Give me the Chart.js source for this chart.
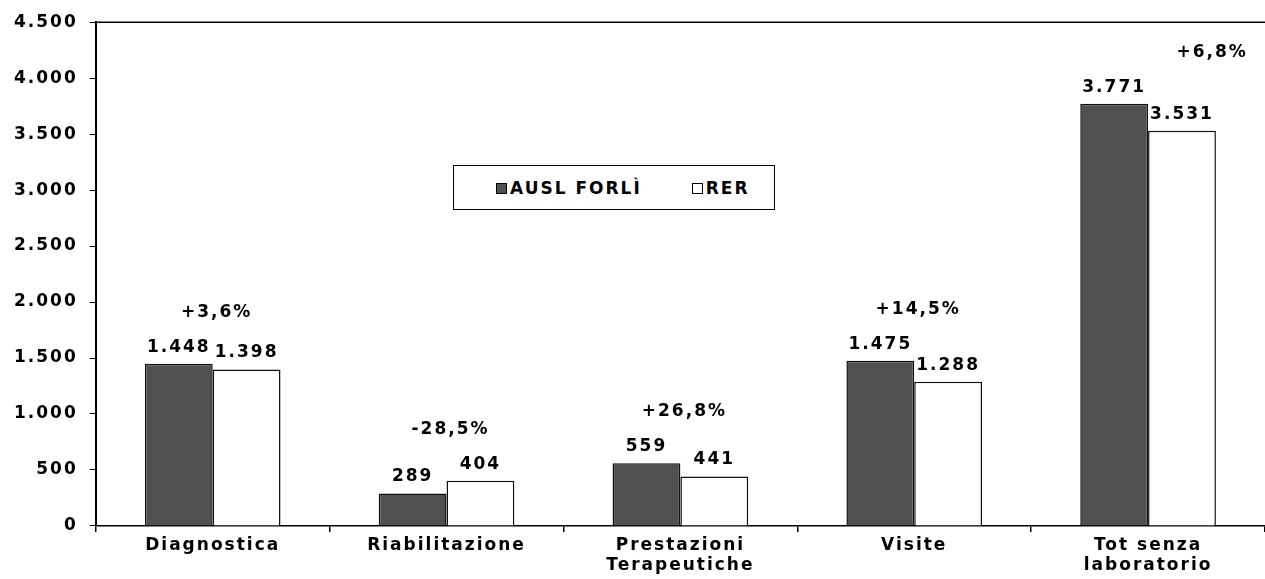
<!DOCTYPE html>
<html>
<head>
<meta charset="utf-8">
<script src="https://cdn.jsdelivr.net/npm/chart.js@4/dist/chart.umd.min.js"></script>
<style>
  body { margin: 0; background: #fff; }
  #wrap { position: relative; width: 1265px; height: 579px; }
  #legend {
    position: absolute; left: 453px; top: 165px; width: 322px; height: 45px;
    border: 1.5px solid #000; background: #fff; box-sizing: border-box;
    font: bold 17px "DejaVu Sans", Verdana, sans-serif; letter-spacing: 2px; color: #000;
    display: flex; align-items: center;
  }
  #legend span.sw { display: inline-block; width: 9px; height: 9px; border: 1px solid #000; margin-right: 3px; }
</style>
</head>
<body>
<div id="wrap">
  <canvas id="chart" width="1265" height="579"></canvas>
  <div id="legend">
    <span style="margin-left:42px"><span class="sw" style="background:#505050"></span>AUSL FORLÌ</span>
    <span style="margin-left:50px"><span class="sw" style="background:#fff"></span>RER</span>
  </div>
</div>
<script>
const categories = [['Diagnostica'], ['Riabilitazione'], ['Prestazioni', 'Terapeutiche'], ['Visite'], ['Tot senza', 'laboratorio']];
const auslForli = [1448, 289, 559, 1475, 3771];
const rer = [1398, 404, 441, 1288, 3531];
const diffLabels = ['+3,6%', '-28,5%', '+26,8%', '+14,5%', '+6,8%'];

const FONT = '"DejaVu Sans", Verdana, sans-serif';
const SPACING = '2px';

function fmt(v) {
    return String(v).replace(/\B(?=(\d{3})+(?!\d))/g, '.');
}

// wide letter spacing like the scanned original
const spacingPlugin = {
    id: 'spacing',
    beforeLayout(chart) { chart.ctx.letterSpacing = SPACING; },
    beforeDraw(chart) { chart.ctx.letterSpacing = SPACING; }
};

// value labels above bars + percent difference above each pair
const labelsPlugin = {
    id: 'labels',
    afterDatasetsDraw(chart) {
        const ctx = chart.ctx;
        ctx.save();
        ctx.letterSpacing = SPACING;
        ctx.fillStyle = '#000';
        ctx.font = 'bold 17px ' + FONT;
        ctx.textAlign = 'center';
        ctx.textBaseline = 'bottom';
        chart.data.datasets.forEach((ds, di) => {
            chart.getDatasetMeta(di).data.forEach((bar, i) => {
                ctx.fillText(fmt(ds.data[i]), bar.x, bar.y - 8);
            });
        });
        const yScale = chart.scales.y;
        const xScale = chart.scales.x;
        diffLabels.forEach((txt, i) => {
            const top = yScale.getPixelForValue(Math.max(auslForli[i], rer[i]));
            let x = xScale.getPixelForValue(i) + 4;
            if (i === diffLabels.length - 1) x += 60;
            ctx.fillText(txt, x, top - 43);
        });
        // top border of the plot area
        ctx.strokeStyle = '#000';
        ctx.lineWidth = 1.5;
        ctx.beginPath();
        ctx.moveTo(chart.chartArea.left, chart.chartArea.top);
        ctx.lineTo(chart.chartArea.right, chart.chartArea.top);
        ctx.stroke();
        ctx.restore();
    }
};

const ctx = document.getElementById('chart');
const chart = new Chart(ctx, {
    type: 'bar',
    data: {
        labels: categories,
        datasets: [
            {
                label: 'AUSL FORLÌ',
                data: auslForli,
                backgroundColor: '#505050',
                borderColor: '#111',
                borderWidth: 1.5,
                barPercentage: 1,
                categoryPercentage: 0.58
            },
            {
                label: 'RER',
                data: rer,
                backgroundColor: '#ffffff',
                borderColor: '#111',
                borderWidth: 1.5,
                barPercentage: 1,
                categoryPercentage: 0.58
            }
        ]
    },
    options: {
        responsive: false,
        animation: false,
        layout: { padding: { top: 11, right: 0, left: 2, bottom: 0 } },
        plugins: {
            legend: { display: false },
            tooltip: { enabled: false }
        },
        scales: {
            x: {
                grid: { display: true, drawOnChartArea: false, color: '#000', tickLength: 6, lineWidth: 1.5 },
                border: { color: '#000', width: 1.5 },
                ticks: { color: '#000', font: { family: FONT, size: 17, weight: 'bold', lineHeight: 1.15 }, padding: 4, maxRotation: 0 }
            },
            y: {
                min: 0,
                max: 4500,
                grid: { display: true, drawOnChartArea: false, color: '#000', tickLength: 6 },
                border: { color: '#000', width: 2 },
                ticks: {
                    stepSize: 500,
                    color: '#000',
                    padding: 12,
                    font: { family: FONT, size: 17, weight: 'bold' },
                    callback: v => fmt(v)
                }
            }
        }
    },
    plugins: [spacingPlugin, labelsPlugin]
});
</script>
</body>
</html>
